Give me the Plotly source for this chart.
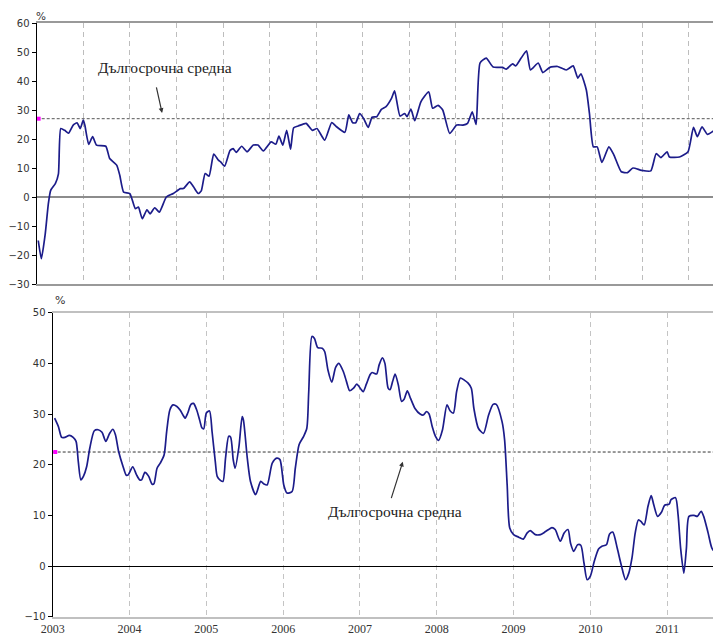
import plotly.graph_objects as go

# ---------------- data ----------------
# Top panel: time in months from the start of the window, value in %
top_t = [0.2, 0.6, 1.1, 1.5, 1.8, 2.4, 2.8, 3.1, 3.6, 4.1, 4.7, 5.2, 5.6, 6.0, 6.2, 6.7, 7.2, 7.7, 8.9,
         9.4, 10.3, 10.7, 11.2, 12.0, 12.7, 13.1, 13.6, 14.2, 14.6, 15.2, 15.8, 16.7, 17.6, 18.5, 18.9,
         19.7, 20.2, 20.8, 21.2, 21.7, 22.2, 22.8, 23.4, 23.7, 24.2, 24.9, 25.3, 25.7, 26.4, 27.1, 27.9,
         28.5, 29.2, 30.2, 30.8, 31.2, 31.7, 32.2, 32.7, 33.1, 33.7, 34.7, 35.5, 36.1, 37.1, 38.0, 38.5,
         39.7, 40.2, 40.7, 41.1, 41.6, 42.1, 42.7, 43.2, 43.8, 44.4, 45.0, 45.7, 46.1, 46.8, 47.4, 47.7,
         48.2, 48.7, 49.5, 50.5, 51.0, 51.7, 52.3, 53.2, 54.1, 54.9, 55.5, 56.1, 56.6, 57.1, 57.9, 58.8,
         60.0, 60.5, 61.3, 61.7, 62.4, 63.1, 63.6, 64.6, 65.2, 66.1, 67.1, 68.2, 69.1, 69.7, 70.1, 70.8,
         71.2, 71.7, 72.2, 72.8, 73.7, 74.3, 75.3, 76.1, 76.8, 77.9, 79.1, 79.8, 80.4, 81.2, 81.5, 82.8,
         83.9, 84.6, 85.1, 85.7, 86.4, 87.3, 88.2]
top_v = [-15, -21.3, -12.7, -2.3, 2.3, 4.6, 8, 23.6, 23, 22, 24.8, 25.6, 23.6, 26.5, 24.8, 18.1, 20.8, 17.9, 17.5,
         13.3, 11, 7.5, 1.7, 1.2, -4, -3.5, -7.5, -4.4, -5.8, -3.7, -5.2, 0, 1.2, 2.9, 2.9,
         5.2, 3.5, 1.2, 2.1, 8.1, 7.2, 14.8, 12.7, 12.1, 10.6, 16, 16.7, 15.4, 17.5, 15.6, 17.9,
         17.9, 15.9, 19, 18.2, 21, 17.9, 23, 16.5, 23.9, 24.5, 25.4, 23, 23.6, 19.6, 25.7, 24.5,
         22.3, 28.3, 25.6, 25.6, 28.8, 27.1, 24, 27.5, 27.7, 30.2, 31.2, 34, 36.6, 27.9, 28.8, 27.7,
         30.3, 26.3, 32.9, 36.3, 30.6, 31.6, 30, 21.9, 24.8, 24.8, 25.4, 29.4, 25, 46.2, 47.9, 44.8,
         44.7, 44.1, 45.9, 45.2, 47.9, 50.4, 43.8, 46.2, 42.9, 44.7, 45, 43.8, 45.2, 41, 42.5, 36.9,
         28.8, 17.3, 17.3, 11.9, 17.3, 14.8, 8.7, 8.4, 10, 9.2, 9, 15, 13.6, 15.6, 13.8, 13.8,
         15.6, 24, 20.8, 24.2, 21.6, 23, 25]
top_avg = 27.0
top_grid = [6, 12, 18, 24, 30, 36, 42, 48, 54, 60, 66, 72, 78, 84]
top_yticks = [60, 50, 40, 30, 20, 10, 0, -10, -20, -30]

# Bottom panel: time in months since January 2003, value in %
bot_t = [0.3, 0.9, 1.4, 1.9, 2.6, 3.2, 3.65, 4.0, 4.4, 4.8, 5.3, 5.8, 6.5, 7.1, 7.7, 8.3, 8.9, 9.4, 9.8,
         10.3, 11.0, 11.5, 11.8, 12.5, 13.1, 13.6, 13.9, 14.4, 15.0, 15.5, 15.8, 16.3, 16.8, 17.4, 17.8,
         18.3, 18.8, 19.4, 19.9, 20.5, 20.7, 21.1, 21.6, 22.0, 22.5, 23.0, 23.3, 23.6, 24.0, 24.5, 24.9,
         25.4, 25.7, 26.2, 26.6, 27.0, 27.5, 27.8, 28.2, 28.5, 29.1, 29.6, 29.8, 30.4, 30.9, 31.7, 32.5,
         33.0, 33.5, 34.3, 35.0, 35.5, 36.1, 36.6, 37.4, 37.9, 38.5, 39.2, 39.7, 40.0, 40.5, 40.9, 41.4,
         42.1, 42.5, 43.0, 43.6, 44.2, 44.7, 45.4, 45.9, 46.4, 47.0, 47.5, 48.1, 48.5, 49.0, 49.6, 49.9,
         50.6, 51.0, 51.5, 51.9, 52.4, 52.7, 53.1, 53.5, 54.0, 54.5, 54.9, 55.4, 55.9, 56.6, 57.4, 57.9,
         58.4, 58.8, 59.3, 59.8, 60.3, 60.9, 61.6, 62.1, 62.6, 63.1, 63.7, 64.3, 64.9, 65.4, 65.8, 66.5,
         67.3, 68.1, 68.8, 69.3, 70.2, 70.6, 71.0, 71.4, 72.0, 72.8, 73.5, 74.1, 74.6, 75.4, 76.2, 77.0,
         78.0, 78.5, 79.3, 79.9, 80.5, 80.9, 81.4, 82.0, 82.5, 83.0, 83.5, 84.0, 84.6, 85.3, 85.8, 86.5,
         87.0, 87.5, 88.2, 88.8, 89.5, 90.0, 90.5, 91.0, 91.5, 91.9, 92.4, 93.0, 93.5, 93.9, 94.5, 95.1,
         95.6, 96.3, 96.6, 97.3, 97.7, 98.1, 98.6, 99.0, 99.4, 100.2, 100.7, 101.3, 101.7, 102.4, 103.0,
         103.7, 104.4]
bot_v = [29.2, 27.5, 25.4, 25.4, 25.8, 25.4, 24.6, 20.6, 17, 17.7, 19.6, 23.3, 26.7, 26.9, 26.4, 24.6, 26.2, 27, 25.9,
         22.6, 19.6, 17.9, 18, 19.6, 18, 17, 17, 18.5, 17.7, 16.2, 16.2, 19.3, 20.3, 21.9, 26.5,
         30.8, 31.8, 31.5, 30.8, 29.5, 29.2, 30.2, 31.9, 32.1, 30.8, 28.6, 27.3, 27.1, 30.2, 30.6, 26.5,
         20.6, 17.7, 16.9, 16.7, 21.3, 25.6, 25.4, 21, 19.3, 23.6, 29.5, 28.8, 21.3, 16.7, 14.1, 16.7,
         16.2, 16, 20.3, 21.3, 21, 16, 14.4, 14.7, 19.3, 24, 25.6, 27.2, 34.4, 45.3, 44.9, 43.1,
         43, 42.3, 38.7, 36.3, 39.2, 40, 38.4, 36.4, 34.6, 35.1, 35.9, 35, 34.4, 35.9, 37.8, 38.2,
         37.9, 39.7, 41.1, 40, 35.1, 34.8, 36.4, 37.9, 35.7, 32.5, 32.9, 34.6, 33.1, 31.1, 30, 29.8,
         30.5, 30, 27.5, 25.6, 24.8, 26.9, 31.8, 30.6, 30.2, 34.4, 37.1, 36.7, 36.1, 35.1, 31.1, 27.2,
         26.2, 29.8, 31.9, 31.9, 28.5, 24.9, 16, 7.5, 6.2, 5.7, 5.3, 6.5, 7, 6.2, 6.2, 6.8,
         7.6, 7.2, 4.9, 6.5, 7.2, 4.5, 2.9, 4.2, 4.1, 0.6, -2.7, -2, 0.9, 3.4, 3.9, 4.2,
         6.3, 6.7, 3.5, 0.3, -2.7, -1.4, 1.6, 6.5, 9.1, 8.8, 8.1, 11.8, 13.9, 12.1, 9.8, 10.6,
         12, 12.2, 13.1, 13.5, 10.1, 3.5, -1.4, 3.5, 9.8, 10, 9.8, 10.8, 9.8, 6.5, 3.5,
         2.6, 3.3]
bot_avg = 22.5
bot_tickvals = [0, 12, 24, 36, 48, 60, 72, 84, 96]
bot_ticktext = ["2003", "2004", "2005", "2006", "2007", "2008", "2009", "2010", "2011"]
bot_yticks = [50, 40, 30, 20, 10, 0, -10]

label_text = "Дългосрочна средна"

# ---------------- figure ----------------
# the page body has an 8px margin, so the figure is 8px smaller and every
# layout position is expressed in page pixels minus that offset
OFF = 8
W, H = 721 - OFF, 636 - OFF
LINE = "#1c1c8a"
SANS = "DejaVu Sans"
SERIF = "Liberation Serif"


def px(x):
    return (x - OFF) / W


def py(y):
    return 1 - (y - OFF) / H


fig = go.Figure()

fig.add_trace(go.Scatter(x=top_t, y=top_v, mode="lines", xaxis="x", yaxis="y",
                         line=dict(color=LINE, width=1.7, shape="spline", smoothing=0.5),
                         showlegend=False, hoverinfo="skip"))
fig.add_trace(go.Scatter(x=bot_t, y=bot_v, mode="lines", xaxis="x2", yaxis="y2",
                         line=dict(color=LINE, width=1.7, shape="spline", smoothing=0.7),
                         showlegend=False, hoverinfo="skip"))

# magenta markers at the start of the long-term average lines
fig.add_trace(go.Scatter(x=[0.25], y=[top_avg], mode="markers", xaxis="x", yaxis="y",
                         marker=dict(symbol="square", size=4, color="#ff00ff"),
                         showlegend=False, hoverinfo="skip", cliponaxis=False))
fig.add_trace(go.Scatter(x=[0.4], y=[bot_avg], mode="markers", xaxis="x2", yaxis="y2",
                         marker=dict(symbol="square", size=4, color="#ff00ff"),
                         showlegend=False, hoverinfo="skip", cliponaxis=False))

# long-term average dotted lines
fig.add_shape(type="line", xref="x domain", yref="y", x0=0, x1=1, y0=top_avg, y1=top_avg,
              line=dict(color="#555555", width=1, dash="3px,2px"), layer="below")
fig.add_shape(type="line", xref="x2 domain", yref="y2", x0=0, x1=1, y0=bot_avg, y1=bot_avg,
              line=dict(color="#333333", width=1, dash="3px,2px"), layer="below")

x_top_max = (721 - 36.7) / 46.58 * 6
x_bot_max = (721 - 52.7) / 6.401

fig.update_layout(
    width=W, height=H,
    margin=dict(l=0, r=0, t=0, b=0, autoexpand=False),
    paper_bgcolor="white", plot_bgcolor="white",
    xaxis=dict(domain=[px(36.7), 1], range=[0, x_top_max], anchor="y", automargin=False,
               tickvals=top_grid, showticklabels=False, ticks="",
               showgrid=True, gridcolor="#bdbdbd", griddash="5px,4px", gridwidth=1,
               showline=True, linecolor="#999999", linewidth=1.5, mirror=True,
               zeroline=False),
    yaxis=dict(domain=[py(284), py(23)], range=[-30, 60], anchor="x", automargin=False,
               tickvals=top_yticks, ticks="outside", ticklen=4, tickcolor="#000",
               tickfont=dict(family=SANS, size=10, color="#333"),
               showgrid=False, showline=True, linecolor="#000", linewidth=1.2,
               zeroline=True, zerolinecolor="#8c8c8c", zerolinewidth=2),
    xaxis2=dict(domain=[px(52.7), 1], range=[0, x_bot_max], anchor="y2", automargin=False,
                tickvals=bot_tickvals, ticktext=bot_ticktext, ticks="",
                tickfont=dict(family=SERIF, size=12, color="#333"),
                showgrid=True, gridcolor="#c4c4c4", griddash="5px,4px", gridwidth=1,
                showline=True, linecolor="#c0c0c0", linewidth=2, mirror=True,
                zeroline=False),
    yaxis2=dict(domain=[py(616.7), py(312.7)], range=[-10, 50], anchor="x2", automargin=False,
                tickvals=bot_yticks, ticks="outside", ticklen=4, tickcolor="#000",
                tickfont=dict(family=SANS, size=10, color="#333"),
                showgrid=False, showline=True, linecolor="#000", linewidth=1.2,
                zeroline=True, zerolinecolor="#000", zerolinewidth=1),
)

# "%" unit labels
fig.add_annotation(text="%", xref="paper", yref="paper", x=px(41), y=py(8),
                   xanchor="center", yanchor="top",
                   showarrow=False, font=dict(family=SANS, size=10.5, color="#333"))
fig.add_annotation(text="%", xref="paper", yref="paper", x=px(60), y=py(300),
                   xanchor="center", yanchor="middle",
                   showarrow=False, font=dict(family=SANS, size=11, color="#333"))

# long-term average labels and arrows
fig.add_annotation(text=label_text, xref="x", yref="y", x=16.5, y=44.5, showarrow=False,
                   xanchor="center", yanchor="middle",
                   font=dict(family=SERIF, size=15.5, color="#222"))
fig.add_annotation(text="", xref="x", yref="y", x=16.15, y=29.0, ax=-6, ay=-27,
                   showarrow=True, arrowhead=2, arrowsize=0.8, arrowwidth=1.2, arrowcolor="#333")
fig.add_annotation(text=label_text, xref="x2", yref="y2", x=53.5, y=10.8, showarrow=False,
                   xanchor="center", yanchor="middle",
                   font=dict(family=SERIF, size=15.5, color="#222"))
fig.add_annotation(text="", xref="x2", yref="y2", x=54.7, y=20.6, ax=-12, ay=38,
                   showarrow=True, arrowhead=2, arrowsize=0.8, arrowwidth=1.2, arrowcolor="#333")

fig.write_html("out.html")
